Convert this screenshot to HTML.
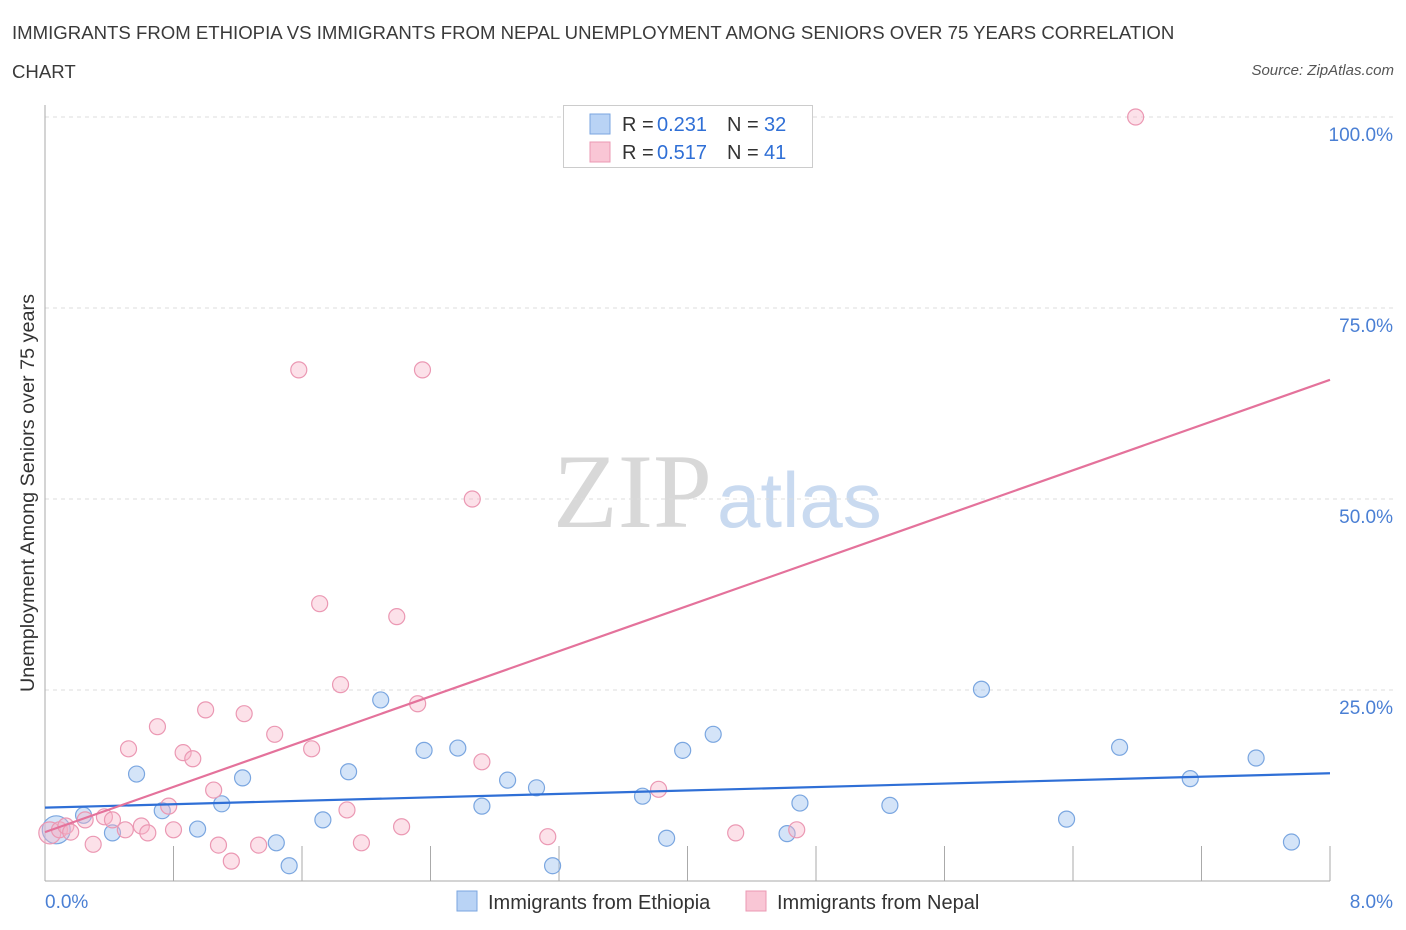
<!DOCTYPE html>
<html><head><meta charset="utf-8"><style>
body{margin:0;background:#fff;font-family:"Liberation Sans",sans-serif;}
#wrap{position:relative;width:1406px;height:930px;overflow:hidden;}
.title{position:absolute;left:12px;font-size:18.6px;color:#3a3a3a;}
</style></head><body>
<div id="wrap">
<div class="title" style="top:22px">IMMIGRANTS FROM ETHIOPIA VS IMMIGRANTS FROM NEPAL UNEMPLOYMENT AMONG SENIORS OVER 75 YEARS CORRELATION</div>
<div class="title" style="top:61px">CHART</div>
<div style="position:absolute;right:12px;top:62px;font-size:15px;font-style:italic;color:#555">Source: ZipAtlas.com</div>
<svg id="svg" width="1406" height="930" style="position:absolute;left:0;top:0"></svg>
</div>
<script>
const xTicks=[0,0.8,1.6,2.4,3.2,4,4.8,5.6,6.4,7.2,8];
const yTicks=[25,50,75,100];
const yTickLabels=["25.0%","50.0%","75.0%","100.0%"];
const ethX=[0.07,0.24,0.42,0.57,0.73,0.95,1.10,1.23,1.44,1.52,1.73,1.89,2.09,2.36,2.57,2.72,2.88,3.06,3.16,3.72,3.87,3.97,4.16,4.62,4.70,5.26,5.83,6.36,6.69,7.13,7.54,7.76];
const ethY=[6.7,8.6,6.3,14.0,9.2,6.8,10.1,13.5,5.0,2.0,8.0,14.3,23.7,17.1,17.4,9.8,13.2,12.2,2.0,11.1,5.6,17.1,19.2,6.2,10.2,9.9,25.1,8.1,17.5,13.4,16.1,5.1];
const nepX=[0.03,0.09,0.13,0.16,0.25,0.30,0.37,0.42,0.50,0.52,0.60,0.64,0.70,0.77,0.80,0.86,0.92,1.00,1.05,1.08,1.16,1.24,1.33,1.43,1.58,1.66,1.71,1.84,1.88,1.97,2.19,2.22,2.32,2.35,2.66,2.72,3.13,3.82,4.30,4.68,6.79];
const nepY=[6.3,6.7,7.2,6.4,8.0,4.8,8.4,8.0,6.7,17.3,7.2,6.3,20.2,9.8,6.7,16.8,16.0,22.4,11.9,4.7,2.6,21.9,4.7,19.2,66.9,17.3,36.3,25.7,9.3,5.0,34.6,7.1,23.2,66.9,50.0,15.6,5.8,12.0,6.3,6.7,100];
const ethTrend=[9.6,14.1];
const nepTrend=[6.4,65.6];
const X0=45,X1=1330,Y0=881,Y100=117;
const sx=v=>X0+(v/8)*(X1-X0);
const sy=v=>Y0-(v/100)*(Y0-Y100);
const svg=document.getElementById('svg');
const NS='http://www.w3.org/2000/svg';
function mk(t,a,p){const e=document.createElementNS(NS,t);for(const k in a)e.setAttribute(k,a[k]);(p||svg).appendChild(e);return e;}
let w1=mk('text',{x:553,y:527,'font-size':106,'font-family':'Liberation Serif,serif',fill:'#d8d8d8'});w1.textContent='ZIP';


let w2=mk('text',{x:717,y:527,'font-size':78,'font-family':'Liberation Sans,sans-serif',fill:'#c9daf0'});w2.textContent='atlas';


yTicks.forEach((t,i)=>{
 const g=mk('line',{x1:X0,x2:1395,y1:sy(t),y2:sy(t),stroke:'#ddd','stroke-dasharray':'4,4'});
 
 
 const l=mk('text',{x:1393,y:sy(t)+24,'text-anchor':'end','font-size':19,fill:'#4a7fd4'});l.textContent=yTickLabels[i];
 
 
});
let ax=mk('line',{x1:X0,x2:X1,y1:Y0,y2:Y0,stroke:'#aaa'});


let ay=mk('line',{x1:X0,x2:X0,y1:105,y2:Y0,stroke:'#aaa'});


xTicks.forEach(t=>{const l=mk('line',{x1:sx(t),x2:sx(t),y1:Y0-35,y2:Y0,stroke:'#aaa'});
 
 });
let xl0=mk('text',{x:45,y:908,'font-size':19,fill:'#4a7fd4'});xl0.textContent='0.0%';


let xl1=mk('text',{x:1393,y:908,'font-size':19,fill:'#4a7fd4','text-anchor':'end'});xl1.textContent='8.0%';


let yt=mk('text',{x:0,y:0,'font-size':19.8,fill:'#333','text-anchor':'middle',transform:'translate(34,493) rotate(-90)'});yt.textContent='Unemployment Among Seniors over 75 years';


ethX.forEach((x,i)=>{const c=mk('circle',{cx:sx(x),cy:sy(ethY[i]),r:i===0?14:8,fill:'rgba(160,195,240,0.45)',stroke:'#7aa6e0','stroke-width':1.2});
 
 });
nepX.forEach((x,i)=>{const c=mk('circle',{cx:sx(x),cy:sy(nepY[i]),r:i===0?11:8,fill:'rgba(248,180,200,0.4)',stroke:'#eb98b3','stroke-width':1.2});
 
 });
let t1=mk('line',{x1:sx(0),y1:sy(ethTrend[0]),x2:sx(8),y2:sy(ethTrend[1]),stroke:'#2f6fd6','stroke-width':2.2});


let t2=mk('line',{x1:sx(0),y1:sy(nepTrend[0]),x2:sx(8),y2:sy(nepTrend[1]),stroke:'#e4729b','stroke-width':2.2});


let lb=mk('rect',{x:563.5,y:105.5,width:249,height:62,fill:'#fff',stroke:'#ccc'});


[[0,'#b9d3f5','#7aa6e0','0.231','32'],[1,'#f9c6d5','#eb98b3','0.517','41']].forEach(r=>{
 const y=114+r[0]*28;
 const s=mk('rect',{x:590,y:y,width:20,height:20,fill:r[1],stroke:r[2]});
 
 
 const parts=[[622,'R =','#333'],[657,r[3],'#2f6fd6'],[727,'N =','#333'],[764,r[4],'#2f6fd6']];
 parts.forEach(p=>{
  const t=mk('text',{x:p[0],y:y+17,'font-size':20,fill:p[2]});t.textContent=p[1];
  
  
 });
});
[[457,'#b9d3f5','#7aa6e0','Immigrants from Ethiopia'],[746,'#f9c6d5','#eb98b3','Immigrants from Nepal']].forEach(r=>{
 const s=mk('rect',{x:r[0],y:891,width:20,height:20,fill:r[1],stroke:r[2]});
 
 
 const t=mk('text',{x:r[0]+31,y:909,'font-size':20,fill:'#333'});t.textContent=r[3];
 
 
});
</script>
</body></html>
